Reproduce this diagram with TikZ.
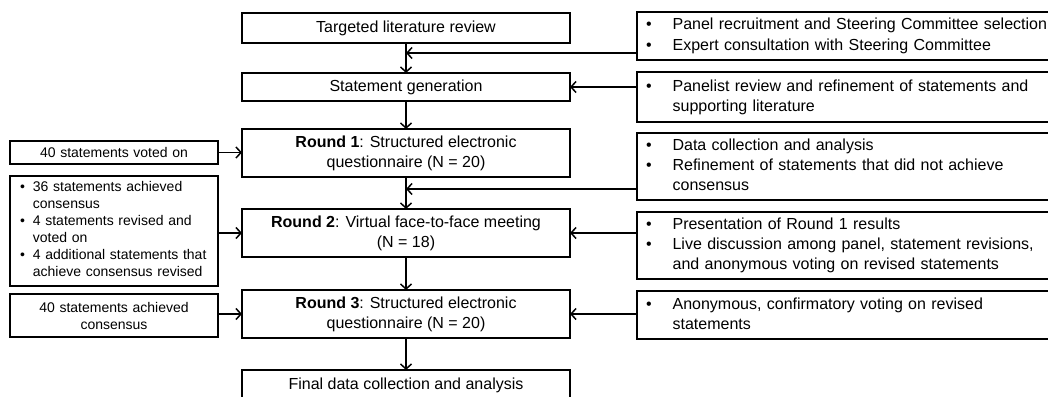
\documentclass[tikz,border=0pt]{standalone}
\usepackage{fontspec}
\setmainfont{Liberation Sans}
\usetikzlibrary{positioning, arrows.meta}

\begin{document}
\begin{tikzpicture}[
        node distance = 30pt and 20pt,
        stage/.style = {rectangle, draw, line width=1.9pt, outer sep=0pt, minimum width=328pt, inner sep=0pt, align=center, font=\fontsize{16}{20}\selectfont},
        side/.style = {rectangle, draw, line width=1.9pt, outer sep=0pt, minimum width=420pt, text width=420pt, inner sep=0pt, align=left, font=\fontsize{16}{20}\selectfont},
        note/.style = {rectangle, draw, line width=1.9pt, outer sep=0pt, minimum width=208pt, text width=208pt, inner sep=0pt, align=center, font=\fontsize{14}{17}\selectfont},
        arr/.style = {line width=1.5pt, -{Straight Barb[length=5pt, width=11pt]}}
    ]
        \useasboundingbox (0,0) rectangle (1048pt,-396pt);
        \clip (0,0) rectangle (1048pt,-396pt);

        % Main process
        \node[stage, minimum height=30pt] (lit) at (406pt,-28pt) {Targeted literature review};
        \node[stage, minimum height=28pt, below=30pt of lit] (gen) {Statement generation};
        \node[stage, minimum height=48pt, below=28pt of gen] (round1) {\textbf{Round 1}: Structured electronic\\questionnaire (N = 20)};
        \node[stage, minimum height=48pt, below=32pt of round1] (round2) {\textbf{Round 2}: Virtual face-to-face meeting\\(N = 18)};
        \node[stage, minimum height=48pt, below=33pt of round2] (round3) {\textbf{Round 3}: Structured electronic\\questionnaire (N = 20)};
        \node[stage, minimum height=30pt, below=32pt of round3] (final) {Final data collection and analysis};

        % Activities
        \node[side, minimum height=48pt, anchor=north west] (recruit) at (637pt,-12pt) {%
            \begin{tabular}{@{\hspace{9pt}}l@{\hspace{21pt}}l@{}}
            \textbullet & Panel recruitment and Steering Committee selection\\
            \textbullet & Expert consultation with Steering Committee
            \end{tabular}};
        \node[side, minimum height=50pt, below=12pt of recruit] (refine) {%
            \begin{tabular}{@{\hspace{9pt}}l@{\hspace{21pt}}l@{}}
            \textbullet & Panelist review and refinement of statements and\\
             & supporting literature
            \end{tabular}};
        \node[side, minimum height=67pt, below=11pt of refine] (analysis) {%
            \begin{tabular}{@{\hspace{9pt}}l@{\hspace{21pt}}l@{}}
            \textbullet & Data collection and analysis\\
            \textbullet & Refinement of statements that did not achieve\\
             & consensus
            \end{tabular}};
        \node[side, minimum height=67pt, below=12pt of analysis] (present) {%
            \begin{tabular}{@{\hspace{9pt}}l@{\hspace{21pt}}l@{}}
            \textbullet & Presentation of Round 1 results\\
            \textbullet & Live discussion among panel, statement revisions,\\
             & and anonymous voting on revised statements
            \end{tabular}};
        \node[side, minimum height=48pt, below=12pt of present] (confirm) {%
            \begin{tabular}{@{\hspace{9pt}}l@{\hspace{21pt}}l@{}}
            \textbullet & Anonymous, confirmatory voting on revised\\
             & statements
            \end{tabular}};

        % Outcomes
        \node[note, minimum height=23pt, anchor=north west] (voted) at (10pt,-141pt) {40 statements voted on};
        \node[note, minimum height=110pt, align=left, below=12pt of voted] (achieved) {%
            \begin{tabular}{@{\hspace{10pt}}l@{\hspace{8pt}}l@{}}
            \textbullet & 36 statements achieved\\
             & consensus\\
            \textbullet & 4 statements revised and\\
             & voted on\\
            \textbullet & 4 additional statements that\\
             & achieve consensus revised
            \end{tabular}};
        \node[note, minimum height=43pt, below=8pt of achieved] (consensus) {40 statements achieved\\consensus};

        % Arrows
        \coordinate (recruitout) at ([yshift=7pt]recruit.south west);
        \coordinate (analysisout) at ([yshift=11pt]analysis.south west);
        \draw[arr] (lit) -- (gen);
        \draw[arr] (gen) -- (round1);
        \draw[arr] (round1) -- (round2);
        \draw[arr] (round2) -- (round3);
        \draw[arr] (round3) -- (final);
        \draw[arr] (recruitout) -- (recruitout -| lit.south);
        \draw[arr] (refine.west |- gen.east) -- (gen.east);
        \draw[arr] (analysisout) -- (analysisout -| round1.south);
        \draw[arr] (present.west |- round2.east) -- (round2.east);
        \draw[arr] (confirm.west |- round3.east) -- (round3.east);
        \draw[arr] (voted.east) -- (voted.east -| round1.west);
        \draw[arr] (achieved.east |- round2.west) -- (round2.west);
        \draw[arr] (consensus.east |- round3.west) -- (round3.west);
    \end{tikzpicture}
\end{document}
